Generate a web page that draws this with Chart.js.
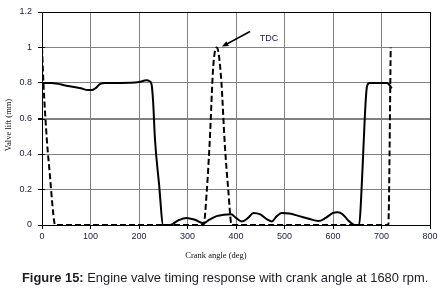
<!DOCTYPE html>
<html>
<head>
<meta charset="utf-8">
<script src="https://cdn.jsdelivr.net/npm/chart.js@4"></script>
<style>
    html, body { margin: 0; padding: 0; background: #fff; }
    #wrap { position: relative; width: 447px; height: 290px; }
    #caption {
        position: absolute; left: 22px; top: 270px;
        font-family: "Liberation Sans", Arial, sans-serif; font-size: 12.9px;
        color: #1c1c24; white-space: nowrap;
    }
</style>
</head>
<body>
<div id="wrap">
    <canvas id="valveChart" width="447" height="290"></canvas>
    <div id="caption"><b>Figure 15:</b> Engine valve timing response with crank angle at 1680 rpm.</div>
</div>
<script>
// 실선 (밸브 1) - crank angle / lift
const solidAngles = [0, 20, 50, 80, 95, 102, 110, 120, 130, 160, 200, 215, 222, 226, 229, 233, 241, 250,
    264, 280, 298, 315, 333, 345, 360, 375, 390, 400, 412, 425, 436, 450, 465, 474, 484, 494, 510, 530,
    550, 570, 585, 600, 610, 620, 630, 645, 654, 658, 663, 667, 670, 675, 690, 711, 716, 721];
const solidLift = [0.80, 0.80, 0.785, 0.77, 0.76, 0.76, 0.77, 0.795, 0.80, 0.80, 0.805, 0.815, 0.81, 0.79, 0.70, 0.48, 0.24, 0.0,
    0.0, 0.025, 0.04, 0.03, 0.01, 0.03, 0.05, 0.058, 0.06, 0.04, 0.02, 0.04, 0.068, 0.06, 0.03, 0.02, 0.05, 0.068, 0.065, 0.05,
    0.035, 0.022, 0.04, 0.068, 0.072, 0.06, 0.03, 0.0, 0.0, 0.15, 0.45, 0.68, 0.78, 0.80, 0.80, 0.80, 0.79, 0.77];

// 점선 (밸브 2)
const dashAngles = [0, 3, 10, 16, 23, 27, 333, 340, 346, 353, 360, 364, 370, 377, 384, 391, 714, 719];
const dashLift = [1.0, 0.8, 0.48, 0.29, 0.07, 0.0, 0.0, 0.2, 0.48, 0.89, 1.0, 0.97, 0.80, 0.45, 0.2, 0.0, 0.0, 1.0];

// 축 눈금
const xTicks = [0, 100, 200, 300, 400, 500, 600, 700, 800];
const yTicks = [0, 0.2, 0.4, 0.6, 0.8, 1, 1.2];

// TDC 화살표 (데이터 좌표)
const tdcFrom = [429, 1.09];
const tdcTo = [371, 1.005];
const tdcLabel = [449, 1.048];

function toPoints(xs, ys) {
    return xs.map((x, i) => ({ x: x, y: ys[i] }));
}

const tickFont = { family: '"Liberation Sans", Arial, sans-serif', size: 9 };

// 테두리, 축 제목, 화살표 그리기
const extrasPlugin = {
    id: 'extras',
    afterDraw(chart) {
        const ctx = chart.ctx;
        const a = chart.chartArea;
        const xs = chart.scales.x, ys = chart.scales.y;
        ctx.save();
        ctx.strokeStyle = '#000';
        ctx.lineWidth = 1;
        ctx.strokeRect(a.left + 0.5, a.top + 0.5, a.right - a.left, a.bottom - a.top);

        // y축 안쪽 눈금
        yTicks.forEach(v => {
            const py = Math.round(ys.getPixelForValue(v)) + 0.5;
            ctx.beginPath();
            ctx.moveTo(a.left, py);
            ctx.lineTo(a.left + 3, py);
            ctx.stroke();
        });

        // 축 제목
        ctx.fillStyle = '#111';
        ctx.font = '8.5px "Liberation Serif", "Times New Roman", serif';
        ctx.textAlign = 'center';
        ctx.textBaseline = 'middle';
        ctx.fillText('Crank angle (deg)', 216, 256);
        ctx.save();
        ctx.translate(9, 125);
        ctx.rotate(-Math.PI / 2);
        ctx.fillText('Valve lift (mm)', 0, 0);
        ctx.restore();

        // TDC 화살표
        const x1 = xs.getPixelForValue(tdcFrom[0]), y1 = ys.getPixelForValue(tdcFrom[1]);
        const x2 = xs.getPixelForValue(tdcTo[0]), y2 = ys.getPixelForValue(tdcTo[1]);
        const ang = Math.atan2(y2 - y1, x2 - x1);
        ctx.lineWidth = 1.5;
        ctx.beginPath();
        ctx.moveTo(x1, y1);
        ctx.lineTo(x2 - 5 * Math.cos(ang), y2 - 5 * Math.sin(ang));
        ctx.stroke();
        ctx.fillStyle = '#000';
        ctx.beginPath();
        ctx.moveTo(x2, y2);
        ctx.lineTo(x2 - 7 * Math.cos(ang - 0.4), y2 - 7 * Math.sin(ang - 0.4));
        ctx.lineTo(x2 - 7 * Math.cos(ang + 0.4), y2 - 7 * Math.sin(ang + 0.4));
        ctx.closePath();
        ctx.fill();

        ctx.fillStyle = '#1a1a40';
        ctx.font = '9px "Liberation Sans", Arial, sans-serif';
        ctx.textAlign = 'left';
        ctx.fillText('TDC', xs.getPixelForValue(tdcLabel[0]), ys.getPixelForValue(tdcLabel[1]));
        ctx.restore();
    }
};

new Chart(document.getElementById('valveChart'), {
    type: 'scatter',
    data: {
        datasets: [
            {
                label: 'solid',
                data: toPoints(solidAngles, solidLift),
                showLine: true,
                borderColor: '#000',
                borderWidth: 2,
                pointRadius: 0,
                cubicInterpolationMode: 'monotone'
            },
            {
                label: 'dashed',
                data: toPoints(dashAngles, dashLift),
                showLine: true,
                borderColor: '#000',
                borderWidth: 2,
                borderDash: [6, 3],
                pointRadius: 0,
                cubicInterpolationMode: 'monotone'
            }
        ]
    },
    options: {
        responsive: false,
        animation: false,
        layout: { padding: { top: 12, right: 17, left: 0, bottom: 0 } },
        plugins: {
            legend: { display: false },
            tooltip: { enabled: false }
        },
        scales: {
            x: {
                type: 'linear',
                min: 0,
                max: 800,
                afterBuildTicks: s => { s.ticks = xTicks.map(v => ({ value: v })); },
                afterFit: s => { s.height = 65; },
                ticks: { font: tickFont, color: '#1a1a40', padding: 2, maxRotation: 0 },
                grid: { color: '#808080', lineWidth: 1, tickColor: '#000', tickLength: 4 },
                border: { color: '#000', width: 1 }
            },
            y: {
                min: 0,
                max: 1.2,
                afterBuildTicks: s => { s.ticks = yTicks.map(v => ({ value: v })); },
                afterFit: s => { s.width = 42; },
                ticks: {
                    font: tickFont,
                    color: '#1a1a40',
                    padding: 6,
                    callback: v => String(Math.round(v * 10) / 10)
                },
                grid: {
                    color: '#808080',
                    lineWidth: c => (c.tick && Math.abs(c.tick.value - 0.6) < 1e-6 ? 2 : 1),
                    tickColor: '#000',
                    tickLength: 4
                },
                border: { color: '#000', width: 1 }
            }
        }
    },
    plugins: [extrasPlugin]
});
</script>
</body>
</html>
